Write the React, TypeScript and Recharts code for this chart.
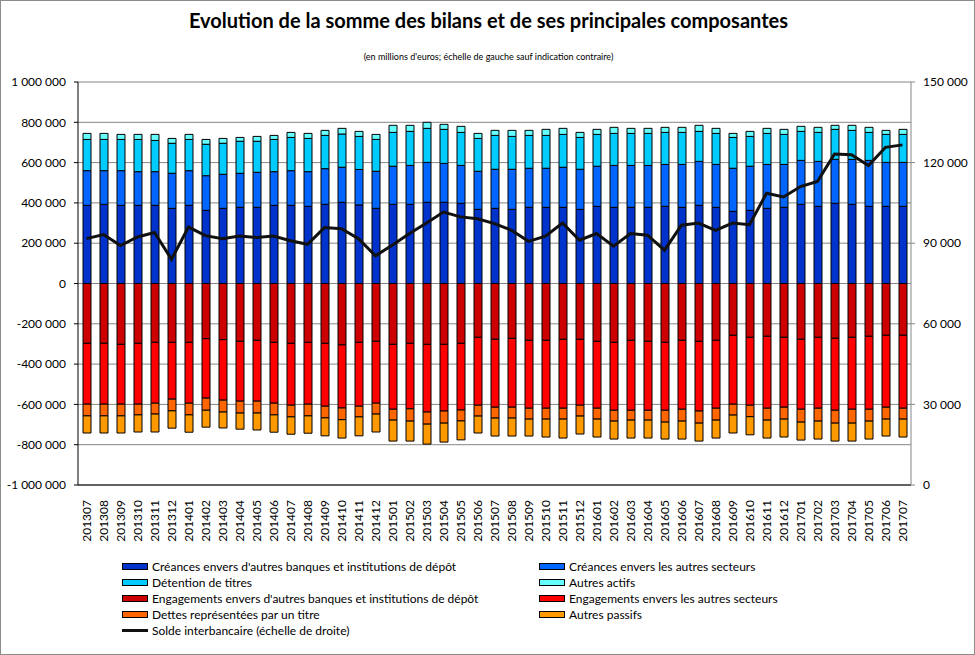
import React from 'react';
import { Bar, CartesianGrid, ComposedChart, Line, XAxis, YAxis } from 'recharts';

// months (YYYYMM)
const months = [
  '201307', '201308', '201309', '201310', '201311', '201312',
  '201401', '201402', '201403', '201404', '201405', '201406', '201407', '201408', '201409', '201410', '201411', '201412',
  '201501', '201502', '201503', '201504', '201505', '201506', '201507', '201508', '201509', '201510', '201511', '201512',
  '201601', '201602', '201603', '201604', '201605', '201606', '201607', '201608', '201609', '201610', '201611', '201612',
  '201701', '201702', '201703', '201704', '201705', '201706', '201707',
];

// actif, en milliers de millions (x1000 below)
const creancesBanques = [388, 393, 388, 388, 388, 373, 388, 363, 373, 378, 378, 388, 388, 383, 393, 403, 390, 373, 393, 393, 403, 403, 398, 368, 373, 368, 378, 378, 378, 368, 383, 378, 378, 378, 383, 378, 388, 378, 358, 363, 373, 378, 393, 383, 398, 393, 383, 383, 383];
const creancesSecteurs = [172, 167, 172, 167, 167, 174, 172, 172, 169, 169, 174, 167, 172, 172, 177, 174, 176, 184, 189, 193, 198, 193, 188, 189, 194, 199, 194, 194, 199, 199, 199, 208, 208, 208, 208, 213, 218, 213, 214, 219, 218, 213, 218, 223, 218, 223, 228, 218, 218];
const detentionTitres = [155, 155, 155, 160, 155, 149, 155, 156, 154, 159, 154, 160, 165, 165, 165, 165, 164, 158, 168, 169, 169, 169, 164, 163, 168, 163, 163, 163, 163, 158, 158, 159, 159, 159, 159, 159, 149, 154, 153, 148, 154, 149, 144, 144, 149, 144, 139, 139, 139];
const autresActifs = [30, 30, 25, 25, 30, 24, 25, 24, 24, 19, 24, 20, 25, 25, 25, 28, 25, 25, 35, 30, 30, 25, 30, 25, 25, 30, 25, 30, 30, 25, 25, 30, 25, 25, 25, 25, 30, 25, 20, 25, 25, 25, 25, 25, 20, 25, 25, 20, 25];

// passif (drawn below zero)
const engagementsBanques = [297, 297, 302, 297, 292, 292, 292, 274, 279, 287, 282, 292, 297, 292, 297, 305, 292, 287, 302, 297, 302, 302, 297, 267, 277, 272, 282, 282, 277, 277, 287, 292, 282, 287, 292, 282, 287, 282, 257, 267, 262, 267, 277, 267, 272, 267, 262, 257, 257];
const engagementsSecteurs = [302, 302, 297, 302, 302, 282, 302, 295, 300, 297, 302, 302, 307, 307, 312, 313, 317, 307, 322, 325, 336, 331, 331, 337, 337, 342, 337, 337, 342, 327, 332, 337, 347, 342, 337, 342, 346, 337, 342, 337, 357, 347, 347, 352, 357, 357, 362, 357, 362];
const dettesTitre = [58, 58, 58, 53, 54, 58, 58, 60, 59, 59, 59, 58, 58, 58, 58, 58, 53, 54, 54, 61, 60, 60, 54, 54, 54, 54, 54, 54, 54, 54, 54, 54, 49, 49, 59, 59, 60, 59, 54, 57, 59, 59, 64, 64, 64, 69, 59, 59, 54];
const autresPassifs = [85, 85, 85, 85, 89, 86, 86, 84, 79, 80, 84, 86, 86, 86, 89, 91, 94, 89, 104, 99, 99, 94, 94, 84, 89, 89, 84, 89, 94, 89, 89, 89, 89, 89, 84, 89, 89, 89, 89, 90, 89, 89, 89, 89, 89, 89, 89, 84, 89];

// solde interbancaire, échelle de droite
const soldeInterbancaire = [91.7, 93.2, 89.1, 92.3, 94.0, 84.0, 96.0, 92.8, 91.7, 92.7, 92.1, 92.7, 90.9, 89.6, 95.8, 95.4, 91.7, 85.3, 89.3, 93.6, 97.5, 101.6, 99.8, 99.1, 97.3, 94.8, 90.7, 92.6, 97.5, 91.1, 93.6, 88.9, 93.6, 93.0, 87.4, 96.7, 97.5, 94.8, 97.5, 96.9, 108.6, 107.2, 111.1, 113.0, 123.2, 122.9, 118.9, 125.7, 126.6];

const leftTicks = [-1000000, -800000, -600000, -400000, -200000, 0, 200000, 400000, 600000, 800000, 1000000];
const rightTicks = [0, 30000, 60000, 90000, 120000, 150000];

const series = [
  { key: 'cb', name: "Créances envers d'autres banques et institutions de dépôt", color: '#0033CC', values: creancesBanques, sign: 1 },
  { key: 'cs', name: 'Créances envers les autres secteurs', color: '#0066FF', values: creancesSecteurs, sign: 1 },
  { key: 'dt', name: 'Détention de titres', color: '#00CCFF', values: detentionTitres, sign: 1 },
  { key: 'aa', name: 'Autres actifs', color: '#66FFFF', values: autresActifs, sign: 1 },
  { key: 'eb', name: "Engagements envers d'autres banques et institutions de dépôt", color: '#CC0000', values: engagementsBanques, sign: -1 },
  { key: 'es', name: 'Engagements envers les autres secteurs', color: '#FF0000', values: engagementsSecteurs, sign: -1 },
  { key: 'dr', name: 'Dettes représentées par un titre', color: '#FF6600', values: dettesTitre, sign: -1 },
  { key: 'ap', name: 'Autres passifs', color: '#FF9900', values: autresPassifs, sign: -1 },
];

const data = months.map((m, i) => {
  const row: Record<string, number | string> = { month: m, solde: soldeInterbancaire[i] * 1000 };
  series.forEach((s) => {
    row[s.key] = s.sign * s.values[i] * 1000;
  });
  return row;
});

const fmt = (v: number) => {
  const s = Math.abs(Math.round(v)).toString().replace(/\B(?=(\d{3})+(?!\d))/g, ' ');
  return (v < 0 ? '-' : '') + s;
};

const FONT = 'Lato, "Liberation Sans", sans-serif';

const MonthTick = (props: any) => {
  const { x, y, payload } = props;
  return (
    <text
      x={x}
      y={y + 7}
      dy="0.35em"
      transform={`rotate(-90 ${x} ${y + 7})`}
      textAnchor="end"
      fontSize={12}
      fill="#000"
      fontFamily={FONT}
    >
      {payload.value}
    </text>
  );
};

const Swatch = ({ color, line }: { color: string; line?: boolean }) =>
  line ? (
    <span style={{ display: 'inline-block', width: 26, height: 3, background: '#111', marginRight: 4, verticalAlign: 'middle' }} />
  ) : (
    <span
      style={{
        display: 'inline-block',
        width: 24,
        height: 5,
        background: color,
        border: '1px solid #000',
        marginRight: 4,
        verticalAlign: 'middle',
      }}
    />
  );

const LegendItem = ({ name, color, line, left, top }: any) => (
  <div style={{ position: 'absolute', left, top, whiteSpace: 'nowrap', fontSize: 12, lineHeight: '16px' }}>
    <Swatch color={color} line={line} />
    <span style={{ verticalAlign: 'middle' }}>{name}</span>
  </div>
);

export default function App() {
  return (
    <div
      style={{
        position: 'absolute',
        left: 0,
        top: 0,
        width: 975,
        height: 655,
        background: '#fff',
        fontFamily: FONT,
        color: '#000',
        boxSizing: 'border-box',
        border: '1px solid #8c8c8c',
      }}
    >
      <div style={{ position: 'absolute', left: 0, top: 7, width: 975, textAlign: 'center', fontWeight: 700, fontSize: 20 }}>
        Evolution de la somme des bilans et de ses principales composantes
      </div>
      <div style={{ position: 'absolute', left: 0, top: 50, width: 975, textAlign: 'center', fontSize: 9 }}>
        (en millions d'euros; échelle de gauche sauf indication contraire)
      </div>
      <div style={{ position: 'absolute', left: -1, top: -1 }}>
        <ComposedChart
          width={975}
          height={655}
          data={data}
          stackOffset="sign"
          barSize={8}
          margin={{ top: 82, right: 0, bottom: 120, left: 0 }}
          style={{ fontFamily: FONT }}
        >
          <CartesianGrid yAxisId="left" vertical={false} stroke="#868686" strokeWidth={1} />
          <XAxis
            dataKey="month"
            interval={0}
            height={50}
            tick={<MonthTick />}
            tickLine={false}
            axisLine={{ stroke: '#000' }}
          />
          <YAxis
            yAxisId="left"
            width={78}
            domain={[-1000000, 1000000]}
            ticks={leftTicks}
            tickFormatter={fmt}
            tick={{ fontSize: 12, fill: '#000' }}
            tickSize={4}
            tickMargin={8}
            axisLine={{ stroke: '#000' }}
            tickLine={{ stroke: '#000' }}
            allowDataOverflow
          />
          <YAxis
            yAxisId="right"
            orientation="right"
            width={64}
            domain={[0, 150000]}
            ticks={rightTicks}
            tickFormatter={fmt}
            tick={{ fontSize: 12, fill: '#000' }}
            tickSize={4}
            tickMargin={8}
            axisLine={{ stroke: '#868686' }}
            tickLine={{ stroke: '#868686' }}
          />
          {series.map((s) => (
            <Bar
              key={s.key}
              yAxisId="left"
              dataKey={s.key}
              name={s.name}
              stackId="bilan"
              fill={s.color}
              stroke="#000"
              strokeWidth={1}
              isAnimationActive={false}
            />
          ))}
          <Line
            yAxisId="right"
            dataKey="solde"
            name="Solde interbancaire (échelle de droite)"
            stroke="#111"
            strokeWidth={3}
            dot={false}
            type="linear"
            isAnimationActive={false}
          />
        </ComposedChart>
      </div>
      {series.map((s, i) => (
        <LegendItem
          key={s.key}
          name={s.name}
          color={s.color}
          left={i % 2 === 0 ? 121 : 538}
          top={557 + Math.floor(i / 2) * 16}
        />
      ))}
      <LegendItem name="Solde interbancaire (échelle de droite)" line left={121} top={557 + 4 * 16} />
    </div>
  );
}
